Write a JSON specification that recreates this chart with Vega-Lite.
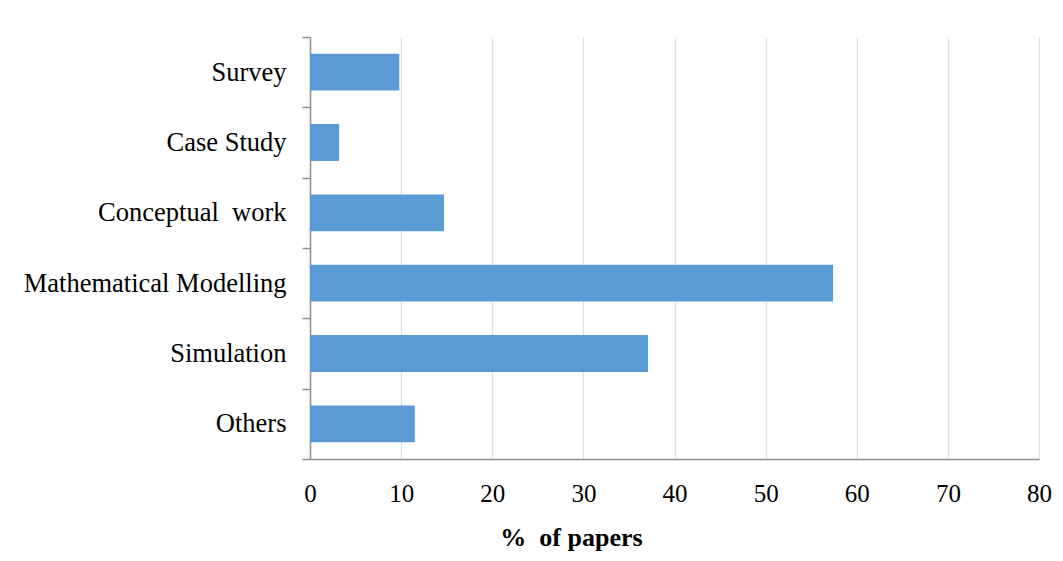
{
  "$schema": "https://vega.github.io/schema/vega-lite/v6.json",
  "width": 729,
  "height": 422,
  "autosize": {"type": "none"},
  "padding": {"left": 310, "top": 37, "right": 24, "bottom": 102},
  "background": "white",
  "data": {
    "values": [
      {"method": "Survey", "pct": 9.8},
      {"method": "Case Study", "pct": 3.2},
      {"method": "Conceptual\u00a0 work", "pct": 14.7},
      {"method": "Mathematical Modelling", "pct": 57.4},
      {"method": "Simulation", "pct": 37.1},
      {"method": "Others", "pct": 11.5}
    ]
  },
  "mark": {"type": "bar", "color": "#5b9bd5", "height": {"band": 0.523}},
  "encoding": {
    "y": {
      "field": "method",
      "type": "nominal",
      "sort": null,
      "scale": {"paddingInner": 0, "paddingOuter": 0},
      "axis": {
        "title": null,
        "tickBand": "extent",
        "tickSize": 8,
        "tickColor": "#8f8f8f",
        "tickWidth": 1.5,
        "domainColor": "#8f8f8f",
        "domainWidth": 1.5,
        "labelFont": "Liberation Serif",
        "labelFontSize": 26.5,
        "labelColor": "#000000",
        "labelPadding": 16,
        "labelLimit": 400,
        "grid": false
      }
    },
    "x": {
      "field": "pct",
      "type": "quantitative",
      "scale": {"domain": [0, 80], "nice": false},
      "axis": {
        "title": "%\u00a0 of papers",
        "values": [0, 10, 20, 30, 40, 50, 60, 70, 80],
        "ticks": false,
        "tickSize": 0,
        "domainColor": "#8f8f8f",
        "domainWidth": 1.5,
        "grid": true,
        "gridColor": "#d3e3f6",
        "gridWidth": 1.3,
        "labelFont": "Liberation Serif",
        "labelFontSize": 25,
        "labelColor": "#000000",
        "labelPadding": 22,
        "labelFlush": false,
        "titleFont": "Liberation Serif",
        "titleFontSize": 26,
        "titleFontWeight": "bold",
        "titleColor": "#000000",
        "titleAnchor": null,
        "titleAlign": "center",
        "titleBaseline": "alphabetic",
        "titleX": 261,
        "titleY": 86
      }
    }
  },
  "config": {"view": {"stroke": null}, "font": "Liberation Serif"}
}
